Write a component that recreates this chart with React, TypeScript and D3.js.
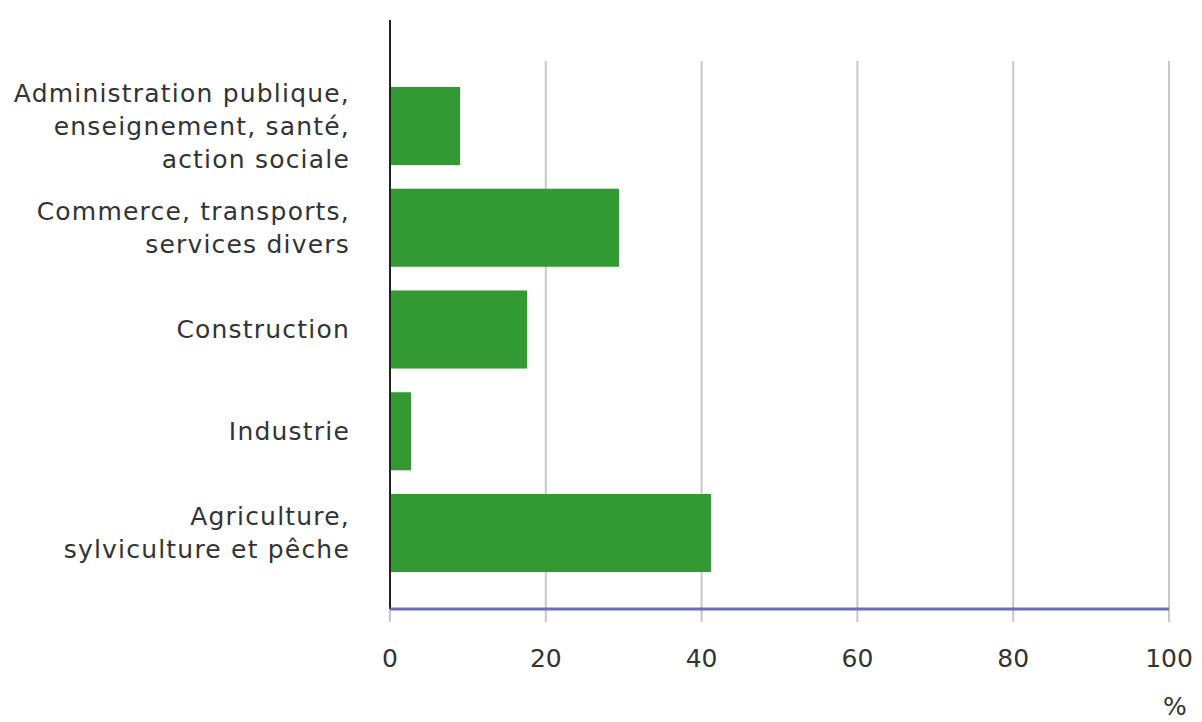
import * as d3 from "d3";
import { useEffect, useRef } from "react";

const categories = [
  ["Administration publique,", "enseignement, santé,", "action sociale"],
  ["Commerce, transports,", "services divers"],
  ["Construction"],
  ["Industrie"],
  ["Agriculture,", "sylviculture et pêche"],
];
const values = [9.0, 29.4, 17.6, 2.7, 41.2];
const xTicks = [0, 20, 40, 60, 80, 100];

const WIDTH = 1202;
const HEIGHT = 722;
const X0 = 390;
const X1 = 1169;
const AXIS_Y = 609;
const FONT = "DejaVu Sans, Verdana, sans-serif";
const FS = 25;
const LS = 1.2;

export default function App() {
  const svgRef = useRef<SVGSVGElement>(null);

  useEffect(() => {
    const svg = d3.select(svgRef.current);
    svg.selectAll("*").remove();

    const x = d3.scaleLinear().domain([0, 100]).range([X0, X1]);
    const y = d3
      .scaleBand<number>()
      .domain(d3.range(categories.length))
      .range([62, 597])
      .paddingInner(0.233)
      .paddingOuter(0.245);

    // vertical grid, running a little past the axis as ticks
    svg
      .append("g")
      .selectAll("line")
      .data(xTicks.slice(1))
      .join("line")
      .attr("x1", (d) => x(d))
      .attr("x2", (d) => x(d))
      .attr("y1", 61)
      .attr("y2", 622)
      .attr("stroke", "#c8c8c8")
      .attr("stroke-width", 2);
    svg
      .append("line")
      .attr("x1", x(0))
      .attr("x2", x(0))
      .attr("y1", AXIS_Y)
      .attr("y2", 622)
      .attr("stroke", "#c8c8c8")
      .attr("stroke-width", 2);

    svg
      .append("g")
      .selectAll("rect")
      .data(values)
      .join("rect")
      .attr("x", x(0))
      .attr("y", (_, i) => y(i) as number)
      .attr("width", (d) => x(d) - x(0))
      .attr("height", y.bandwidth())
      .attr("fill", "#339933");

    svg
      .append("line")
      .attr("x1", x(0))
      .attr("x2", x(0))
      .attr("y1", 20)
      .attr("y2", AXIS_Y)
      .attr("stroke", "#222")
      .attr("stroke-width", 2);
    svg
      .append("line")
      .attr("x1", x(0))
      .attr("x2", x(100))
      .attr("y1", AXIS_Y)
      .attr("y2", AXIS_Y)
      .attr("stroke", "#6b6bc0")
      .attr("stroke-width", 3);

    const lh = 33;
    const labels = svg
      .append("g")
      .attr("font-family", FONT)
      .attr("font-size", FS)
      .attr("letter-spacing", LS)
      .attr("fill", "#333")
      .attr("text-anchor", "end");
    categories.forEach((lines, i) => {
      const cy = (y(i) as number) + y.bandwidth() / 2;
      const start = cy - ((lines.length - 1) * lh) / 2;
      lines.forEach((t, j) => {
        labels
          .append("text")
          .attr("x", 350)
          .attr("y", start + j * lh)
          .attr("dy", "0.35em")
          .text(t);
      });
    });

    svg
      .append("g")
      .attr("font-family", FONT)
      .attr("font-size", FS)
      .attr("fill", "#333")
      .attr("text-anchor", "middle")
      .selectAll("text")
      .data(xTicks)
      .join("text")
      .attr("x", (d) => x(d))
      .attr("y", 667)
      .text((d) => d);

    svg
      .append("text")
      .attr("x", 1175)
      .attr("y", 715)
      .attr("text-anchor", "middle")
      .attr("font-family", FONT)
      .attr("font-size", FS)
      .attr("fill", "#333")
      .text("%");
  }, []);

  return (
    <svg
      ref={svgRef}
      width={WIDTH}
      height={HEIGHT}
      style={{ position: "absolute", left: 0, top: 0, background: "#fff" }}
    />
  );
}
